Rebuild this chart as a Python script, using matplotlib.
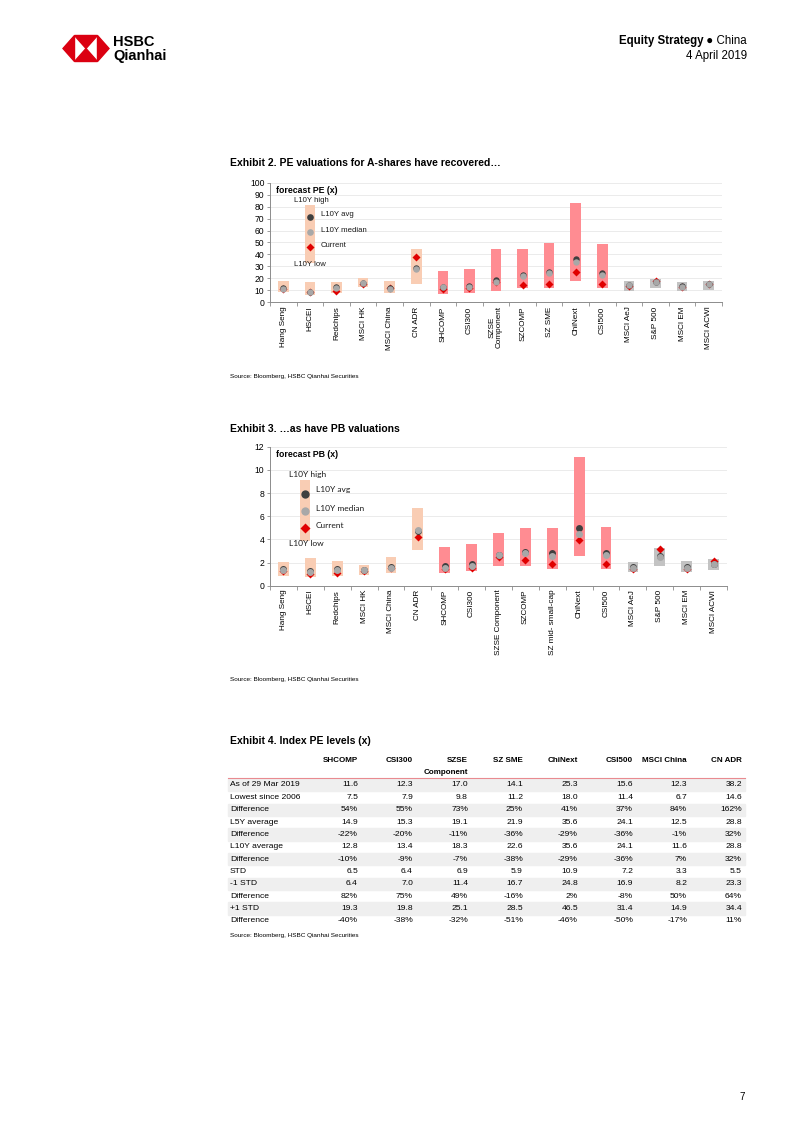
import numpy as np
import matplotlib
matplotlib.use('Agg')
import matplotlib.pyplot as plt
from matplotlib import font_manager
from matplotlib.patches import Polygon, Rectangle

W, H = 802, 1133

# ---- Exhibit 2: forecast PE ----
pe_cats = ['Hang Seng', 'HSCEI', 'Redchips', 'MSCI HK', 'MSCI China', 'CN ADR',
           'SHCOMP', 'CSI300', 'SZSE\nComponent', 'SZCOMP', 'SZ SME', 'ChiNext',
           'CSI500', 'MSCI AeJ', 'S&P 500', 'MSCI EM', 'MSCI ACWI']
pe_low = [8.8, 5.8, 7.5, 12.4, 7.5, 14.9, 7.2, 7.7, 9.4, 11.6, 11.6, 18.0, 11.6, 9.7, 11.6, 9.4, 10.2]
pe_high = [18.0, 17.1, 16.9, 20.2, 17.4, 44.2, 26.0, 27.9, 44.8, 44.8, 49.4, 83.1, 48.9, 18.0, 19.3, 16.6, 17.7]
pe_avg = [11.8, 9.0, 12.5, 16.3, 11.6, 28.8, 12.8, 13.4, 18.3, 23.0, 25.3, 35.8, 24.4, 14.8, 17.2, 13.3, 15.4]
pe_median = [11.5, 8.6, 12.2, 16.0, 11.3, 28.0, 12.5, 13.0, 17.0, 22.3, 24.5, 33.7, 23.0, 14.2, 16.8, 12.8, 15.0]
pe_current = [11.2, 8.8, 9.6, 15.3, 12.3, 38.2, 11.0, 12.3, 17.0, 14.4, 15.7, 25.4, 15.7, 13.5, 17.5, 12.5, 15.5]

# ---- Exhibit 3: forecast PB ----
pb_cats = ['Hang Seng', 'HSCEI', 'Redchips', 'MSCI HK', 'MSCI China', 'CN ADR',
           'SHCOMP', 'CSI300', 'SZSE Component', 'SZCOMP', 'SZ mid- small-cap', 'ChiNext',
           'CSI500', 'MSCI AeJ', 'S&P 500', 'MSCI EM', 'MSCI ACWI']
pb_low = [0.85, 0.72, 0.80, 0.90, 1.06, 3.05, 1.06, 1.24, 1.66, 1.70, 1.41, 2.53, 1.47, 1.15, 1.70, 1.20, 1.35]
pb_high = [2.05, 2.40, 2.16, 1.75, 2.45, 6.75, 3.37, 3.57, 4.55, 4.98, 4.95, 11.08, 5.05, 2.07, 3.25, 2.10, 2.27]
pb_avg = [1.40, 1.25, 1.40, 1.35, 1.62, 4.75, 1.70, 1.85, 2.65, 2.90, 2.80, 4.95, 2.85, 1.60, 2.55, 1.58, 1.90]
pb_median = [1.32, 1.15, 1.33, 1.32, 1.55, 4.80, 1.55, 1.72, 2.68, 2.82, 2.55, 4.46, 2.65, 1.55, 2.45, 1.52, 1.85]
pb_current = [1.25, 1.00, 1.08, 1.28, 1.55, 4.23, 1.40, 1.55, 2.45, 2.24, 1.84, 3.98, 1.84, 1.45, 3.15, 1.45, 2.12]

# market group of each index (same order in both charts)
groups = ['hk'] * 6 + ['a'] * 7 + ['global'] * 4

# ---- Exhibit 4: table ----
tbl_cols = ['SHCOMP', 'CSI300', 'SZSE\nComponent', 'SZ SME', 'ChiNext', 'CSI500', 'MSCI China', 'CN ADR']
tbl_rows = ['As of 29 Mar 2019', 'Lowest since 2006', 'Difference', 'L5Y average', 'Difference',
            'L10Y average', 'Difference', 'STD', '-1 STD', 'Difference', '+1 STD', 'Difference']
tbl_vals = [
    ['11.6', '12.3', '17.0', '14.1', '25.3', '15.6', '12.3', '38.2'],
    ['7.5', '7.9', '9.8', '11.2', '18.0', '11.4', '6.7', '14.6'],
    ['54%', '55%', '73%', '25%', '41%', '37%', '84%', '162%'],
    ['14.9', '15.3', '19.1', '21.9', '35.6', '24.1', '12.5', '28.8'],
    ['-22%', '-20%', '-11%', '-36%', '-29%', '-36%', '-1%', '32%'],
    ['12.8', '13.4', '18.3', '22.6', '35.6', '24.1', '11.6', '28.8'],
    ['-10%', '-9%', '-7%', '-38%', '-29%', '-36%', '7%', '32%'],
    ['6.5', '6.4', '6.9', '5.9', '10.9', '7.2', '3.3', '5.5'],
    ['6.4', '7.0', '11.4', '16.7', '24.8', '16.9', '8.2', '23.3'],
    ['82%', '75%', '49%', '-16%', '2%', '-8%', '50%', '64%'],
    ['19.3', '19.8', '25.1', '28.5', '46.5', '31.4', '14.9', '34.4'],
    ['-40%', '-38%', '-32%', '-51%', '-46%', '-50%', '-17%', '11%'],
]

source = 'Source: Bloomberg, HSBC Qianhai Securities'

plt.rcParams['font.family'] = ['Liberation Sans', 'DejaVu Sans']
RED = '#DB0011'
group_colors = {'hk': '#F9CDB4', 'a': '#FF8C92', 'global': '#C3C3C3'}

# table font: narrow if available
try:
    font_manager.findfont('Liberation Sans Narrow', fallback_to_default=False)
    TBL_FONT, TBL_FS = ['Liberation Sans Narrow'], 7.3
except Exception:
    TBL_FONT, TBL_FS = ['Liberation Sans'], 6.1


def fx(x):
    return x / W


def fy(y):
    return 1 - y / H


def add_ax(x0, x1, y0, y1):
    return fig.add_axes([fx(x0), fy(y1), (x1 - x0) / W, (y1 - y0) / H])


def draw_range_chart(ax, cats, low, high, avg, med, cur, ymax, ystep, label,
                     ms, leg_x, leg, leg_font, leg_fs, leg_ms):
    n = len(cats)
    x = np.arange(n)
    low = np.array(low)
    high = np.array(high)
    cols = [group_colors[g] for g in groups]
    ax.bar(x, high - low, bottom=low, width=0.4, color=cols, zorder=2)
    ax.plot(x, cur, 'D', color='#E00000', ms=ms * 0.85, mec='none', zorder=3, ls='none')
    ax.plot(x, avg, 'o', color='#3F3F3F', ms=ms, mec='none', zorder=4, ls='none')
    ax.plot(x, med, 'o', color='#A8A8A8', ms=ms, mec='none', zorder=5, ls='none')

    # hand-made legend
    ax.bar([leg_x], [leg['top'] - leg['bottom']], bottom=[leg['bottom']], width=0.4,
           color=group_colors['hk'], zorder=2)
    ax.plot([leg_x], [leg['avg']], 'o', color='#3F3F3F', ms=leg_ms, mec='none', zorder=4)
    ax.plot([leg_x], [leg['median']], 'o', color='#A8A8A8', ms=leg_ms, mec='none', zorder=4)
    ax.plot([leg_x], [leg['current']], 'D', color='#E00000', ms=leg_ms * 0.85, mec='none', zorder=4)
    tk = dict(fontsize=leg_fs, family=leg_font, va='center', color='#1A1A1A')
    ax.text(leg['tx_l'], leg['high_t'], 'L10Y high', **tk)
    ax.text(leg['tx_r'], leg['avg_t'], 'L10Y avg', **tk)
    ax.text(leg['tx_r'], leg['median_t'], 'L10Y median', **tk)
    ax.text(leg['tx_r'], leg['current_t'], 'Current', **tk)
    ax.text(leg['tx_l'], leg['low_t'], 'L10Y low', **tk)

    ax.text(0.013, 0.975, label, transform=ax.transAxes, fontsize=6.3,
            fontweight='bold', va='top', ha='left')

    ax.set_xlim(-0.5, n - 0.5)
    ax.set_ylim(0, ymax)
    ax.set_yticks(np.arange(0, ymax + 0.01, ystep))
    ax.set_yticklabels([f'{int(v)}' for v in np.arange(0, ymax + 0.01, ystep)], fontsize=6.2)
    ax.set_xticks(np.arange(n + 1) - 0.5)
    ax.set_xticklabels([])
    ax.set_xticks(x, minor=True)
    ax.set_xticklabels(cats, minor=True, rotation=90, fontsize=5.9, linespacing=1.0)
    ax.tick_params(axis='x', which='major', length=3, width=0.6, color='#8C8C8C')
    ax.tick_params(axis='x', which='minor', length=0, pad=3)
    ax.tick_params(axis='y', length=2.5, width=0.6, color='#8C8C8C', pad=1.5)
    ax.yaxis.grid(True, color='#E8E8E8', lw=0.6)
    ax.set_axisbelow(True)
    for s in ['top', 'right']:
        ax.spines[s].set_visible(False)
    for s in ['left', 'bottom']:
        ax.spines[s].set_color('#8C8C8C')
        ax.spines[s].set_linewidth(0.7)


fig = plt.figure(figsize=(W / 100, H / 100), dpi=100)

# ---- header ----
cx, cy, hh, hw, tip = 86, 48.5, 13, 11.5, 23
fig.patches.append(Polygon([(fx(cx - tip), fy(cy)), (fx(cx - hw), fy(cy - hh)), (fx(cx - hw), fy(cy + hh))],
                           closed=True, color=RED, transform=fig.transFigure))
fig.patches.append(Polygon([(fx(cx + tip), fy(cy)), (fx(cx + hw), fy(cy - hh)), (fx(cx + hw), fy(cy + hh))],
                           closed=True, color=RED, transform=fig.transFigure))
fig.patches.append(Polygon([(fx(cx - hw), fy(cy - hh)), (fx(cx + hw), fy(cy - hh)), (fx(cx), fy(cy))],
                           closed=True, color=RED, transform=fig.transFigure))
fig.patches.append(Polygon([(fx(cx - hw), fy(cy + hh)), (fx(cx + hw), fy(cy + hh)), (fx(cx), fy(cy))],
                           closed=True, color=RED, transform=fig.transFigure))
fig.text(fx(113), fy(42.5), 'HSBC', fontsize=10.5, fontweight='bold', va='center', ha='left')
fig.text(fx(113), fy(56), 'Qianhai', fontsize=10.5, fontweight='bold', va='center', ha='left')

t_china = fig.text(fx(747), fy(41), ' \u25cf China', fontsize=8.3, va='center', ha='right')
fig.canvas.draw()
bb = t_china.get_window_extent()
fig.text(bb.x0 / fig.dpi / fig.get_figwidth(), fy(41), 'Equity Strategy', fontsize=8.3,
         fontweight='bold', va='center', ha='right')
fig.text(fx(747), fy(56), '4 April 2019', fontsize=8.3, va='center', ha='right')

# ---- Exhibit 2 ----
fig.text(fx(230), fy(163), 'Exhibit 2. PE valuations for A-shares have recovered\u2026',
         fontsize=7.5, fontweight='bold', va='center', ha='left')
ax1 = add_ax(270, 722, 182.7, 302.3)
draw_range_chart(ax1, pe_cats, pe_low, pe_high, pe_avg, pe_median, pe_current, 100, 10,
                 'forecast PE (x)', ms=4.6, leg_x=1.0,
                 leg=dict(top=81, bottom=33, avg=71, median=58.5, current=46,
                          tx_l=0.42, tx_r=1.42, high_t=85, avg_t=73, median_t=60,
                          current_t=47.5, low_t=32),
                 leg_font=['Liberation Sans'], leg_fs=5.6, leg_ms=4.8)
fig.text(fx(230), fy(377), source, fontsize=4.6, va='center', ha='left')

# ---- Exhibit 3 ----
fig.text(fx(230), fy(429), 'Exhibit 3. \u2026as have PB valuations',
         fontsize=7.5, fontweight='bold', va='center', ha='left')
ax2 = add_ax(270, 727, 446.7, 585.7)
draw_range_chart(ax2, pb_cats, pb_low, pb_high, pb_avg, pb_median, pb_current, 12, 2,
                 'forecast PB (x)', ms=5.0, leg_x=0.8,
                 leg=dict(top=9.1, bottom=3.9, avg=7.95, median=6.45, current=4.95,
                          tx_l=0.22, tx_r=1.2, high_t=9.6, avg_t=8.3, median_t=6.65,
                          current_t=5.2, low_t=3.6),
                 leg_font=['Lato', 'DejaVu Sans'], leg_fs=6.0, leg_ms=6.0)
fig.text(fx(230), fy(679), source, fontsize=4.6, va='center', ha='left')

# ---- Exhibit 4 table ----
fig.text(fx(230), fy(741), 'Exhibit 4. Index PE levels (x)',
         fontsize=7.5, fontweight='bold', va='center', ha='left')
col_right = [358, 413, 468, 523, 578, 633, 687, 742]
row_y0, row_h = 785, 12.36
for i, lab in enumerate(tbl_rows):
    yc = row_y0 + i * row_h
    if i % 2 == 0:
        fig.patches.append(Rectangle((fx(228), fy(yc + row_h / 2)), (745 - 228) / W, row_h / H,
                                     color='#EFEFEF', transform=fig.transFigure, zorder=0))
    fig.text(fx(230), fy(yc), lab, fontsize=TBL_FS, family=TBL_FONT, va='center', ha='left')
    for j, v in enumerate(tbl_vals[i]):
        fig.text(fx(col_right[j]), fy(yc), v, fontsize=TBL_FS, family=TBL_FONT,
                 va='center', ha='right')
for j, c in enumerate(tbl_cols):
    for k, part in enumerate(c.split('\n')):
        fig.text(fx(col_right[j]), fy(760.7 + k * 11.5), part, fontsize=TBL_FS * 0.95,
                 family=TBL_FONT, fontweight='bold', va='center', ha='right')
fig.add_artist(plt.Line2D([fx(228), fx(745)], [fy(777.8), fy(777.8)], color='#E98A90',
                          lw=0.8, transform=fig.transFigure))
fig.text(fx(230), fy(935), source, fontsize=4.6, va='center', ha='left')

fig.text(fx(745), fy(1097), '7', fontsize=7, va='center', ha='right')

fig.savefig('out.png', dpi=100)
